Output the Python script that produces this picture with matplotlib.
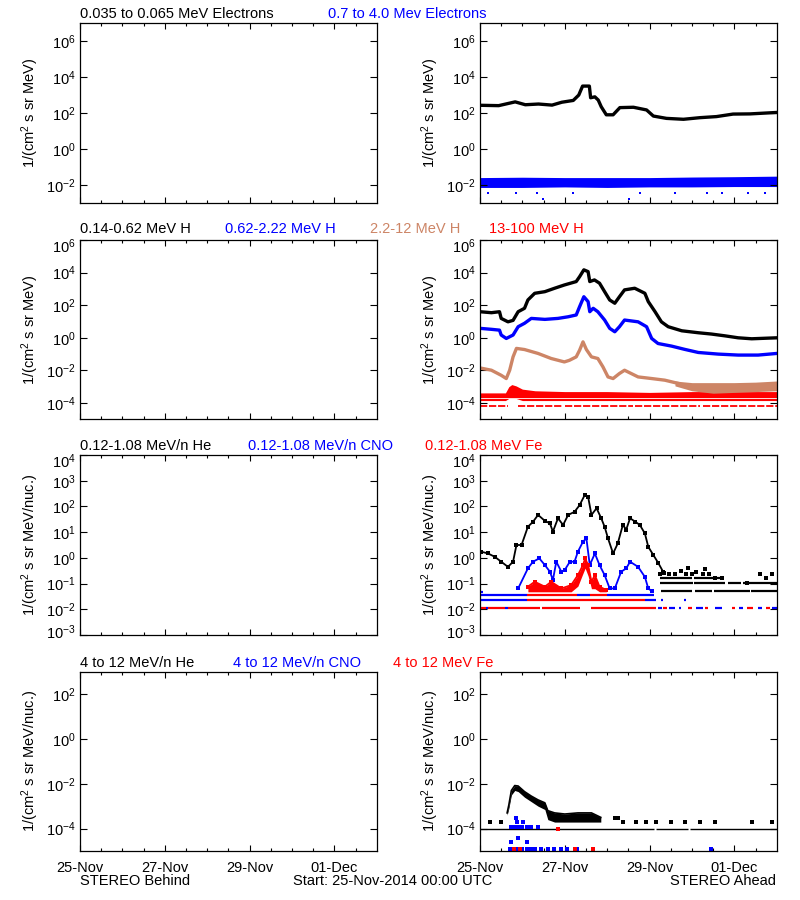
import numpy as np
import matplotlib
matplotlib.use('Agg')
import matplotlib.pyplot as plt
from matplotlib.ticker import FixedLocator, FixedFormatter, NullFormatter

plt.rcParams['font.family'] = ['Liberation Sans', 'DejaVu Sans']
plt.rcParams['mathtext.fontset'] = 'custom'
plt.rcParams['mathtext.rm'] = 'Liberation Sans'
plt.rcParams['mathtext.it'] = 'Liberation Sans:italic'
plt.rcParams['mathtext.bf'] = 'Liberation Sans:bold'

# ---------------- data (values are log10 of flux; time in days since 25-Nov-2014 00:00) -------------
DAY_TICKS = [0, 2, 4, 6]
DAY_LABELS = ['25-Nov', '27-Nov', '29-Nov', '01-Dec']

# Row 1: electrons (STEREO Ahead)
e_lo_t = [0.0, 0.44, 0.83, 1.07, 1.38, 1.7, 1.93, 2.2, 2.33, 2.42, 2.58, 2.61, 2.71, 2.79, 2.86, 2.98,
          3.14, 3.3, 3.62, 3.93, 4.09, 4.4, 4.8, 5.19, 5.58, 5.97, 6.37, 7.0]
e_lo_v = [2.43, 2.41, 2.62, 2.46, 2.5, 2.44, 2.6, 2.7, 3.0, 3.5, 3.5, 2.85, 2.9, 2.72, 2.35, 1.9,
          1.9, 2.3, 2.32, 2.17, 1.83, 1.7, 1.65, 1.74, 1.8, 1.94, 1.95, 2.03]
e_hi_t = [0.0, 1.0, 2.0, 3.0, 4.0, 5.0, 6.0, 7.0]
e_hi_upper = [-1.6, -1.58, -1.6, -1.6, -1.6, -1.57, -1.55, -1.52]
e_hi_lower = [-2.15, -2.15, -2.12, -2.15, -2.12, -2.12, -2.1, -2.1]
e_hi_out_t = [0.2, 0.86, 1.34, 1.49, 2.2, 3.52, 3.77, 4.6, 5.35, 5.7, 6.33, 6.72]
e_hi_out_v = [-2.46, -2.46, -2.46, -2.8, -2.46, -2.8, -2.46, -2.46, -2.46, -2.46, -2.46, -2.46]

# Row 2: protons
h1_t = [0.0, 0.27, 0.46, 0.5, 0.66, 0.78, 0.9, 1.05, 1.13, 1.29, 1.53, 1.76, 1.99, 2.27, 2.35, 2.45,
        2.55, 2.59, 2.7, 2.82, 2.94, 3.06, 3.18, 3.29, 3.41, 3.65, 3.89, 3.97, 4.13, 4.28, 4.44, 4.76,
        5.15, 5.46, 5.78, 6.09, 6.41, 7.0]
h1_v = [1.6, 1.54, 1.6, 1.19, 0.98, 1.07, 1.6, 1.81, 2.32, 2.73, 2.83, 3.04, 3.24, 3.45, 3.75, 4.17,
        4.06, 3.45, 3.55, 3.35, 2.83, 2.32, 2.12, 2.52, 2.94, 3.04, 2.73, 2.22, 1.6, 0.98, 0.68, 0.43,
        0.31, 0.23, 0.12, 0.0, -0.06, 0.0]
h2_t = [0.0, 0.27, 0.46, 0.5, 0.62, 0.78, 0.9, 1.05, 1.21, 1.53, 1.84, 2.08, 2.27, 2.35, 2.45, 2.55,
        2.59, 2.67, 2.78, 2.94, 3.06, 3.18, 3.29, 3.41, 3.73, 3.93, 4.05, 4.2, 4.52, 4.83, 5.15, 5.62,
        6.09, 6.56, 7.0]
h2_v = [0.58, 0.52, 0.47, 0.17, -0.04, 0.17, 0.68, 0.89, 1.19, 1.13, 1.19, 1.29, 1.4, 1.91, 2.52, 2.22,
        1.6, 1.81, 1.6, 1.09, 0.58, 0.37, 0.68, 1.09, 0.98, 0.68, -0.04, -0.35, -0.51, -0.71, -0.9, -1.0,
        -1.06, -1.06, -0.96]
h3_t = [0.0, 0.27, 0.5, 0.62, 0.7, 0.78, 0.86, 1.05, 1.37, 1.68, 1.99, 2.11, 2.27, 2.35, 2.43, 2.51,
        2.63, 2.78, 2.9, 3.02, 3.14, 3.29, 3.41, 3.73, 4.05, 4.36, 4.68]
h3_v = [-1.85, -1.99, -2.3, -2.5, -1.99, -1.17, -0.65, -0.72, -0.96, -1.27, -1.48, -1.38, -1.17, -0.76,
        -0.25, -0.72, -1.17, -1.27, -1.78, -2.4, -2.5, -2.19, -1.99, -2.4, -2.5, -2.6, -2.8]
h3_band_t = [4.6, 5.0, 5.5, 6.0, 6.5, 7.0]
h3_band_hi = [-2.65, -2.75, -2.75, -2.75, -2.72, -2.65]
h3_band_lo = [-2.95, -3.25, -3.4, -3.35, -3.3, -3.25]
h4_t = [0.0, 0.6, 0.68, 0.75, 0.85, 1.0, 1.3, 2.0, 3.0, 4.0, 5.0, 6.0, 7.0]
h4_hi = [-3.38, -3.38, -3.0, -2.87, -2.95, -3.15, -3.25, -3.3, -3.3, -3.35, -3.3, -3.3, -3.3]
h4_lo = [-3.85, -3.85, -3.72, -3.72, -3.72, -3.85, -3.85, -3.85, -3.85, -3.85, -3.85, -3.85, -3.85]
h4_floor_level = -4.18
h4_floor_segs = [(0.0, 0.65), (0.9, 1.95), (2.0, 3.6), (3.65, 5.2), (5.25, 7.0)]

# Row 3: 0.12-1.08 MeV/n ions
he1_t = [0.03, 0.19, 0.35, 0.5, 0.66, 0.78, 0.86, 0.98, 1.13, 1.25, 1.37, 1.53, 1.65, 1.72, 1.84, 1.96,
         2.08, 2.23, 2.35, 2.47, 2.55, 2.63, 2.75, 2.86, 2.94, 3.02, 3.14, 3.25, 3.37, 3.45, 3.54, 3.66,
         3.77, 3.89, 3.97, 4.09, 4.21, 4.32]
he1_v = [0.24, 0.17, 0.04, -0.15, -0.35, -0.15, 0.5, 0.5, 1.21, 1.4, 1.67, 1.44, 1.34, 1.02, 1.54, 1.28,
         1.67, 1.79, 2.05, 2.44, 2.38, 1.67, 1.93, 1.54, 1.21, 0.76, 0.17, 0.56, 1.28, 1.1, 1.54, 1.41,
         1.28, 0.95, 0.43, 0.11, -0.21, -0.54]
he1_pts_t = [4.25, 4.35, 4.45, 4.6, 4.75, 4.85, 4.9, 5.0, 5.1, 5.25, 5.3, 5.4, 5.55, 5.7, 6.3, 6.6, 6.75, 6.9]
he1_pts_v = [-0.64, -0.6, -0.64, -0.64, -0.5, -0.64, -0.4, -0.64, -0.55, -0.64, -0.45, -0.64, -0.77,
             -0.77, -0.97, -0.64, -0.77, -0.64]
he1_levels = [(-0.97, 4.25, 5.02), (-0.97, 5.05, 5.78), (-0.97, 5.85, 6.15), (-0.97, 6.2, 7.0),
              (-1.29, 4.27, 4.99), (-1.29, 5.07, 5.48), (-1.29, 5.53, 6.37), (-1.29, 6.39, 7.0),
              (-0.77, 4.25, 5.0), (-0.77, 5.05, 5.75)]
cno1_t = [0.9, 1.13, 1.25, 1.4, 1.53, 1.65, 1.72, 1.8, 1.92, 2.0, 2.12, 2.23, 2.31, 2.43, 2.51, 2.59,
          2.71, 2.82, 2.94, 3.06, 3.18, 3.33, 3.45, 3.54, 3.73, 3.89, 3.97, 4.05]
cno1_v = [-1.19, -0.41, -0.15, -0.02, -0.28, -0.54, -0.86, -0.15, -0.54, -0.47, -0.15, -0.15, 0.24, 0.63,
          0.76, -0.28, 0.17, -0.28, -0.67, -1.19, -1.19, -0.54, -0.41, -0.15, -0.35, -0.74, -1.19, -1.29]
cno1_levels = [(-1.32, 0.0, 0.08), (-1.46, 0.0, 1.1), (-1.46, 2.3, 2.6), (-1.46, 3.0, 4.1),
               (-1.64, 0.0, 1.1), (-1.64, 3.9, 4.15), (-1.64, 4.27, 4.31), (-1.64, 4.82, 4.86),
               (-1.94, 0.15, 0.2), (-1.94, 0.6, 0.65), (-1.94, 4.2, 4.3), (-1.94, 4.45, 4.6),
               (-1.94, 4.7, 4.75), (-1.94, 5.1, 5.25), (-1.94, 5.55, 5.7), (-1.94, 6.1, 6.2),
               (-1.94, 6.55, 6.65), (-1.94, 6.9, 7.0)]
fe1_t = [1.13, 1.29, 1.53, 1.68, 1.92, 2.15, 2.31, 2.43, 2.48, 2.55, 2.63, 2.71, 2.82, 2.98]
fe1_hi = [-1.12, -0.93, -1.12, -0.93, -1.19, -1.06, -0.67, -0.28, -0.02, -0.28, -0.93, -0.67, -1.12, -1.25]
fe1_lo = [-1.32, -1.32, -1.32, -1.32, -1.32, -1.32, -1.1, -0.6, -0.4, -0.7, -1.2, -1.2, -1.32, -1.32]
fe1_levels = [(-1.46, 1.1, 2.3), (-1.46, 2.6, 3.0), (-1.64, 1.1, 3.9),
              (-1.94, 0.0, 0.15), (-1.94, 0.2, 0.6), (-1.94, 0.65, 1.42), (-1.94, 1.47, 2.35),
              (-1.94, 2.62, 4.15), (-1.94, 4.32, 4.42), (-1.94, 4.9, 5.0), (-1.94, 5.3, 5.38),
              (-1.94, 5.95, 6.02), (-1.94, 6.3, 6.45), (-1.94, 6.75, 6.85)]

# Row 4: 4-12 MeV/n ions
he2_t = [0.64, 0.68, 0.74, 0.82, 0.9, 1.05, 1.21, 1.37, 1.53, 1.6, 1.76, 2.0, 2.31, 2.63, 2.85]
he2_hi = [-3.3, -2.95, -2.3, -2.08, -2.1, -2.35, -2.55, -2.72, -2.85, -3.2, -3.3, -3.35, -3.3, -3.3, -3.5]
he2_lo = [-3.4, -3.1, -2.5, -2.3, -2.35, -2.6, -2.8, -3.0, -3.15, -3.6, -3.71, -3.71, -3.71, -3.71, -3.71]
he2_pts_t = [0.23, 0.49, 3.18, 3.25, 3.37, 3.69, 3.92, 4.16, 4.5, 4.84, 5.19, 5.55, 6.42, 6.89]
he2_pts_v = [-3.71, -3.71, -3.54, -3.54, -3.71, -3.71, -3.71, -3.71, -3.71, -3.71, -3.71, -3.71, -3.71, -3.71]
he2_levels = [(-4.0, 0.0, 4.1), (-4.0, 4.15, 4.9), (-4.0, 4.95, 7.0)]
cno2_pts_t = [0.84, 0.87, 1.01, 0.74, 0.8, 0.9, 1.0, 1.1, 1.2, 1.37, 0.9, 0.74, 1.1,
              0.7, 0.8, 0.9, 1.0, 1.1, 1.2, 1.3, 1.45, 1.6, 1.75, 1.9, 2.05, 2.3, 5.45]
cno2_pts_v = [-3.54, -3.71, -3.71, -3.95, -3.95, -3.95, -3.95, -3.95, -3.95, -3.95, -4.41, -4.59, -4.59,
              -4.91, -4.91, -4.91, -4.91, -4.91, -4.91, -4.91, -4.91, -4.91, -4.91, -4.91, -4.91, -4.91, -4.91]
fe2_pts_t = [0.8, 0.94, 2.23, 2.66, 1.83]
fe2_pts_v = [-4.91, -4.91, -4.91, -4.91, -4.0]

# Panel titles (text, colour, x pixel)
TITLES = [
    [('0.035 to 0.065 MeV Electrons', 'black', 80), ('0.7 to 4.0 Mev Electrons', 'blue', 328)],
    [('0.14-0.62 MeV H', 'black', 80), ('0.62-2.22 MeV H', 'blue', 225),
     ('2.2-12 MeV H', '#CD8566', 370), ('13-100 MeV H', 'red', 489)],
    [('0.12-1.08 MeV/n He', 'black', 80), ('0.12-1.08 MeV/n CNO', 'blue', 248),
     ('0.12-1.08 MeV Fe', 'red', 425)],
    [('4 to 12 MeV/n He', 'black', 80), ('4 to 12 MeV/n CNO', 'blue', 233),
     ('4 to 12 MeV Fe', 'red', 393)],
]
TITLE_BASE_PX = [18.3, 233.5, 450.0, 666.7]
YLIMS_EXP = [(-3, 7), (-5, 6), (-3, 4), (-5, 3)]
YTICK_EXP = [[-2, 0, 2, 4, 6], [-4, -2, 0, 2, 4, 6], [-3, -2, -1, 0, 1, 2, 3, 4], [-4, -2, 0, 2]]
YLABELS = ['1/(cm$^2$ s sr MeV)', '1/(cm$^2$ s sr MeV)',
           '1/(cm$^2$ s sr MeV/nuc.)', '1/(cm$^2$ s sr MeV/nuc.)']

TAN = '#CD8566'
FS = 10.5

# ---------------- layout ----------------
W, H = 800, 900
fig = plt.figure(figsize=(W / 100, H / 100), dpi=100)

ROW_PX = [(23.3, 202.7), (240.0, 419.3), (455.0, 635.0), (671.7, 851.0)]
COL_PX = [(80.0, 376.7), (480.0, 776.7)]


def px_rect(x0, x1, y0, y1):
    return [x0 / W, 1 - y1 / H, (x1 - x0) / W, (y1 - y0) / H]


def L(v):
    return 10 ** np.asarray(v, dtype=float)


def exp_label(e):
    return r'$\mathdefault{10^{%d}}$' % e


axes = []
for r in range(4):
    row = []
    lo, hi = YLIMS_EXP[r]
    for c in range(2):
        ax = fig.add_axes(px_rect(COL_PX[c][0], COL_PX[c][1], ROW_PX[r][0], ROW_PX[r][1]))
        ax.set_yscale('log')
        ax.set_xlim(0, 7)
        ax.set_ylim(10.0 ** lo, 10.0 ** hi)
        ax.yaxis.set_major_locator(FixedLocator([10.0 ** e for e in YTICK_EXP[r]]))
        # labels sitting on the frame edge are nudged inside (as in the original), drawn separately
        labels = [exp_label(e) if lo < e < hi else '' for e in YTICK_EXP[r]]
        ax.yaxis.set_major_formatter(FixedFormatter(labels))
        for e in YTICK_EXP[r]:
            if e == hi or e == lo:
                dy = -5.0 if e == hi else 4.0
                ax.annotate(exp_label(e), xy=(0, 10.0 ** e), xycoords=('axes fraction', 'data'),
                            xytext=(-3, dy * 0.72), textcoords='offset points',
                            ha='right', va='center_baseline', fontsize=FS)
        ax.yaxis.set_minor_locator(FixedLocator([]))
        ax.xaxis.set_major_locator(FixedLocator(DAY_TICKS))
        ax.xaxis.set_minor_locator(FixedLocator([d / 2 for d in range(1, 14) if d % 4 != 0]))
        if r == 3:
            ax.xaxis.set_major_formatter(FixedFormatter(DAY_LABELS))
        else:
            ax.xaxis.set_major_formatter(NullFormatter())
        ax.tick_params(axis='y', which='major', direction='in', length=5, width=0.8,
                       left=True, right=True, pad=3, labelsize=FS)
        ax.tick_params(axis='x', which='major', direction='in', length=4.5, width=0.8,
                       top=True, bottom=True, pad=7, labelsize=FS)
        ax.tick_params(axis='x', which='minor', direction='in', length=2, width=0.8,
                       top=True, bottom=True)
        for s in ax.spines.values():
            s.set_linewidth(0.9)
        ax.set_ylabel(YLABELS[r], fontsize=FS)
        ax.yaxis.set_label_coords(-0.13, 0.5)
        row.append(ax)
    axes.append(row)

# ---------------- Row 1 ----------------
ax = axes[0][1]
ax.fill_between(e_hi_t, L(e_hi_lower), L(e_hi_upper), color='blue', lw=0)
ax.plot(e_hi_out_t, L(e_hi_out_v), 's', color='blue', ms=1.8, mew=0)
ax.plot(e_lo_t, L(e_lo_v), '-', color='black', lw=2.4)

# ---------------- Row 2 ----------------
ax = axes[1][1]
ax.fill_between(h4_t, L(h4_lo), L(h4_hi), color='red', lw=0)
ax.hlines(10 ** -3.72, 0, 7, colors='white', lw=0.6)
ax.hlines([10 ** h4_floor_level] * len(h4_floor_segs), [s[0] for s in h4_floor_segs],
          [s[1] for s in h4_floor_segs], colors='red', lw=1.3, linestyles=(0, (4, 1)))
ax.fill_between(h3_band_t, L(h3_band_lo), L(h3_band_hi), color=TAN, lw=0)
ax.plot(h3_t, L(h3_v), '-', color=TAN, lw=2.4)
ax.plot(h2_t, L(h2_v), '-', color='blue', lw=2.4)
ax.plot(h1_t, L(h1_v), '-', color='black', lw=2.4)


# ---------------- Row 3 ----------------
def draw_levels(ax, levels, color, lw=1.6):
    ax.hlines([10 ** lv for lv, _, _ in levels], [a for _, a, _ in levels],
              [b for _, _, b in levels], colors=color, lw=lw)


ax = axes[2][1]
draw_levels(ax, he1_levels, 'black')
ax.plot(he1_pts_t, L(he1_pts_v), 's', color='black', ms=2.5, mew=0)
draw_levels(ax, cno1_levels, 'blue')
draw_levels(ax, fe1_levels, 'red')
ax.plot(he1_t, L(he1_v), '-s', color='black', lw=1.3, ms=2.5, mew=0)
ax.plot(cno1_t, L(cno1_v), '-s', color='blue', lw=1.3, ms=2.5, mew=0)
ax.fill_between(fe1_t, L(fe1_lo), L(fe1_hi), color='red', lw=0)
ax.plot(fe1_t, L(fe1_hi), '-s', color='red', lw=1.3, ms=2.5, mew=0)

# ---------------- Row 4 ----------------
ax = axes[3][1]
draw_levels(ax, he2_levels, 'black', lw=1.0)
ax.fill_between(he2_t, L(he2_lo), L(he2_hi), color='black', lw=0)
ax.plot(he2_t, L(he2_hi), '-', color='black', lw=1.2)
ax.plot(he2_pts_t, L(he2_pts_v), 's', color='black', ms=2.2, mew=0)
ax.plot(cno2_pts_t, L(cno2_pts_v), 's', color='blue', ms=2.2, mew=0)
ax.plot(fe2_pts_t, L(fe2_pts_v), 's', color='red', ms=2.2, mew=0)

# ---------------- Titles ----------------
for r, items in enumerate(TITLES):
    base = TITLE_BASE_PX[r]
    for text, color, xpx in items:
        fig.text(xpx / W, 1 - base / H, text, color=color, fontsize=FS, ha='left', va='baseline')

fig.text(80 / W, 1 - 885 / H, 'STEREO Behind', fontsize=FS, ha='left', va='baseline')
fig.text(292.7 / W, 1 - 885 / H, 'Start: 25-Nov-2014 00:00 UTC', fontsize=FS, ha='left', va='baseline')
fig.text(776 / W, 1 - 885 / H, 'STEREO Ahead', fontsize=FS, ha='right', va='baseline')

fig.savefig('out.png', dpi=100)
